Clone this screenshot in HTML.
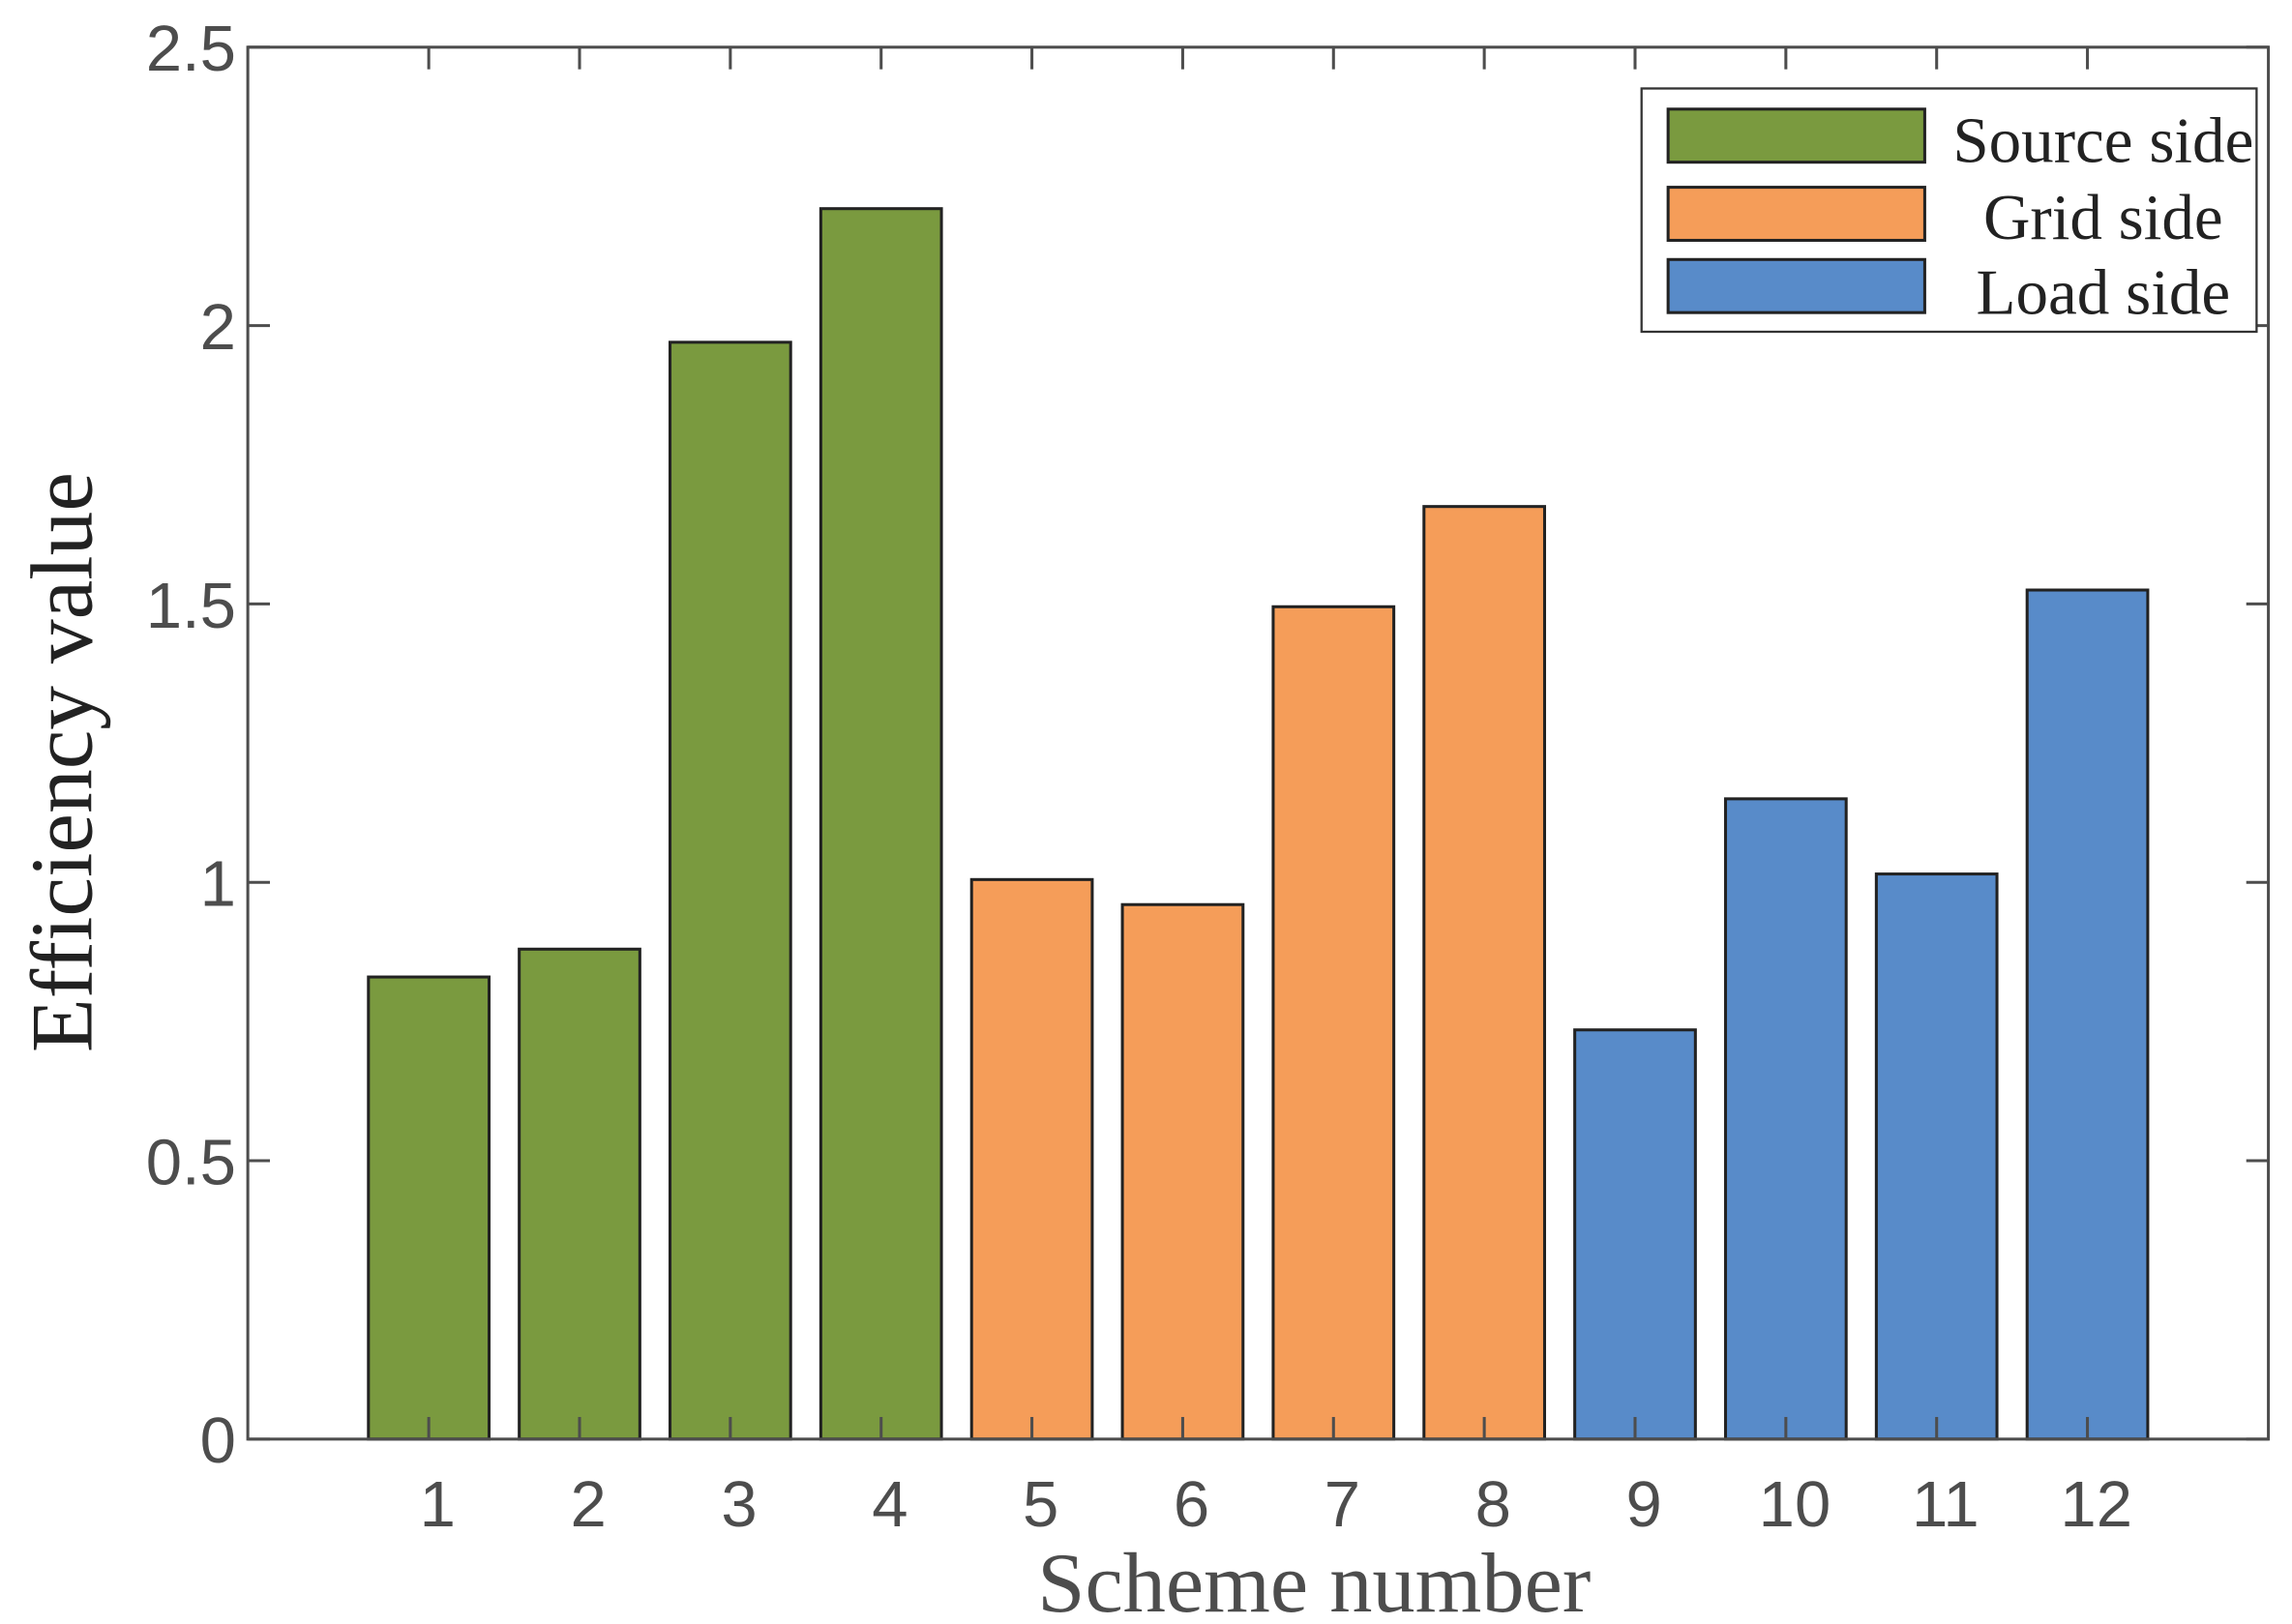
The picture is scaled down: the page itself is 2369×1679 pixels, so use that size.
<!DOCTYPE html>
<html><head><meta charset="utf-8"><style>
html,body{margin:0;padding:0;background:#fff;}
svg{display:block;}
</style></head><body>
<svg id="chart" xmlns="http://www.w3.org/2000/svg" width="2369" height="1679" viewBox="0 0 1554 1101.4">
<rect width="1554" height="1101.4" fill="#fff"/>
<g id="bars"></g>
<g id="axes"></g>
<text transform="translate(62,517) rotate(-90)" text-anchor="middle" font-family="Liberation Serif, serif" font-size="60" fill="#222">Efficiency value</text>
<text x="891" y="1093" text-anchor="middle" font-family="Liberation Serif, serif" font-size="58" fill="#4d4d4d">Scheme number</text>
<g>
<rect x="1113" y="60" width="417" height="165" fill="#fff" stroke="#333" stroke-width="1.5"/>
<g>
<rect x="1131" y="74" width="174" height="36" fill="#7a9a3f" stroke="#222" stroke-width="2"/>
<text x="1426" y="110" text-anchor="middle" font-family="Liberation Serif, serif" font-size="44" fill="#222">Source side</text></g>
<g>
<rect x="1131" y="127" width="174" height="36" fill="#f59d59" stroke="#222" stroke-width="2"/>
<text x="1426" y="162" text-anchor="middle" font-family="Liberation Serif, serif" font-size="44" fill="#222">Grid side</text></g>
<g>
<rect x="1131" y="176" width="174" height="36" fill="#588bc9" stroke="#222" stroke-width="2"/>
<text x="1426" y="213" text-anchor="middle" font-family="Liberation Serif, serif" font-size="44" fill="#222">Load side</text></g>
</g>
</svg>
<script>
const categories = ["1","2","3","4","5","6","7","8","9","10","11","12"];
const values = [0.83, 0.88, 1.97, 2.21, 1.005, 0.96, 1.495, 1.675, 0.735, 1.15, 1.015, 1.525];
const groups = ["source","source","source","source","grid","grid","grid","grid","load","load","load","load"];
const yTicks = [0, 0.5, 1, 1.5, 2, 2.5];
const yTickLabels = ["0","0.5","1","1.5","2","2.5"];

const NS = "http://www.w3.org/2000/svg";
const L = 168, R = 1538, T = 32, B = 976;
const xMin = -0.2, xMax = 13.2, yMax = 2.5;
const colors = {source:"#7a9a3f", grid:"#f59d59", load:"#588bc9"};
function xs(v){ return L + (v - xMin) / (xMax - xMin) * (R - L); }
function ys(v){ return B - v / yMax * (B - T); }
function mk(tag, attrs, parent){
  const e = document.createElementNS(NS, tag);
  for (const k in attrs) e.setAttribute(k, attrs[k]);
  parent.appendChild(e);
  return e;
}
const bars = document.getElementById('bars');
const axes = document.getElementById('axes');
const bw = 0.8;
values.forEach((v, i) => {
  const xc = i + 1;
  const r = mk('rect', {x: xs(xc - bw/2), y: ys(v), width: xs(xc + bw/2) - xs(xc - bw/2), height: ys(0) - ys(v), fill: colors[groups[i]], stroke: '#222', 'stroke-width': 2}, bars);
  
  
});
const frame = mk('rect', {x: L, y: T, width: R - L, height: B - T, fill: 'none', stroke: '#4d4d4d', 'stroke-width': 2}, axes);


yTicks.forEach((t, i) => {
  const y = ys(t);
  const tl = mk('line', {x1: L, x2: L + 15, y1: y, y2: y, stroke: '#4d4d4d', 'stroke-width': 2}, axes);
  
  
  const tr = mk('line', {x1: R, x2: R - 15, y1: y, y2: y, stroke: '#4d4d4d', 'stroke-width': 2}, axes);
  
  
  const tx = mk('text', {x: L - 8, y: y + 16, 'text-anchor': 'end', 'font-family': 'Liberation Sans, sans-serif', 'font-size': 44, fill: '#4d4d4d'}, axes);
  tx.textContent = yTickLabels[i];
  
  
});
categories.forEach((c, i) => {
  const x = xs(i + 1);
  const tb = mk('line', {x1: x, x2: x, y1: B, y2: B - 15, stroke: '#4d4d4d', 'stroke-width': 2}, axes);
  
  
  const tt = mk('line', {x1: x, x2: x, y1: T, y2: T + 15, stroke: '#4d4d4d', 'stroke-width': 2}, axes);
  
  
  const tx = mk('text', {x: x + 6, y: 1035, 'text-anchor': 'middle', 'font-family': 'Liberation Sans, sans-serif', 'font-size': 44, fill: '#4d4d4d'}, axes);
  tx.textContent = c;
  
  
});
</script>
</body></html>
